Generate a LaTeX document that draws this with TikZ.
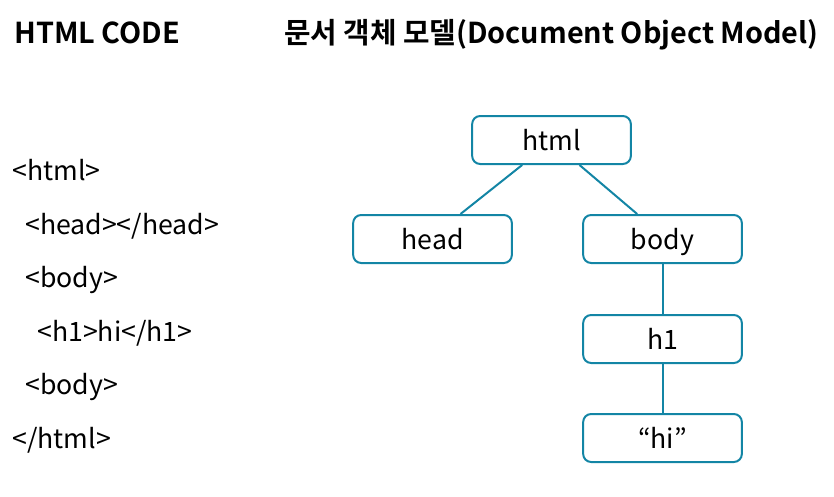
\documentclass[tikz,border=0pt]{standalone}
\usepackage{fontspec}
\setmainfont{Noto Sans CJK KR}[BoldFont={* Bold}]
\definecolor{domblue}{HTML}{1385A5}
\tikzset{
  domnode/.style={draw=domblue, line width=1.5pt, rounded corners=6pt, minimum width=119pt, minimum height=36pt, inner sep=0pt, text height=15pt, text depth=0pt, font=\fontsize{20pt}{24pt}\selectfont},
  codeline/.style={anchor=west, inner sep=0pt, text height=15pt, text depth=0pt, font=\fontsize{20pt}{24pt}\selectfont},
  title/.style={anchor=base west, inner sep=0pt, font=\fontsize{21.6pt}{26pt}\selectfont\bfseries},
  link/.style={domblue, line width=1.5pt}
}
\begin{document}
\begin{tikzpicture}[x=0.75pt,y=-0.75pt]
\useasboundingbox (0,0) rectangle (834,496);

% titles
\node[title] (title1) at (14,43) {HTML CODE};
\node[title] (title2) at (284,43) {문서 객체 모델(Document Object Model)};

% code
\node[codeline] (c1) at (12,170) {<html>};
\node[codeline] (c2) at (25,224) {<head></head>};
\node[codeline] (c3) at (25,277) {<body>};
\node[codeline] (c4) at (37,331) {<h1>hi</h1>};
\node[codeline] (c5) at (25,384) {<body>};
\node[codeline] (c6) at (12,438) {</html>};

% tree
\node[domnode] (html) at (551.5,140) {html};
\node[domnode] (head) at (432.5,239) {head};
\node[domnode] (body) at (662.5,239) {body};
\node[domnode] (h1) at (662.5,339) {h1};
\node[domnode] (hi) at (662.5,438) {“hi”};

\draw[link] ([xshift=-22pt]html.south) -- ([xshift=21pt]head.north);
\draw[link] ([xshift=21pt]html.south) -- ([xshift=-19pt]body.north);
\draw[link] (body) -- (h1);
\draw[link] (h1) -- (hi);
\end{tikzpicture}
\end{document}
